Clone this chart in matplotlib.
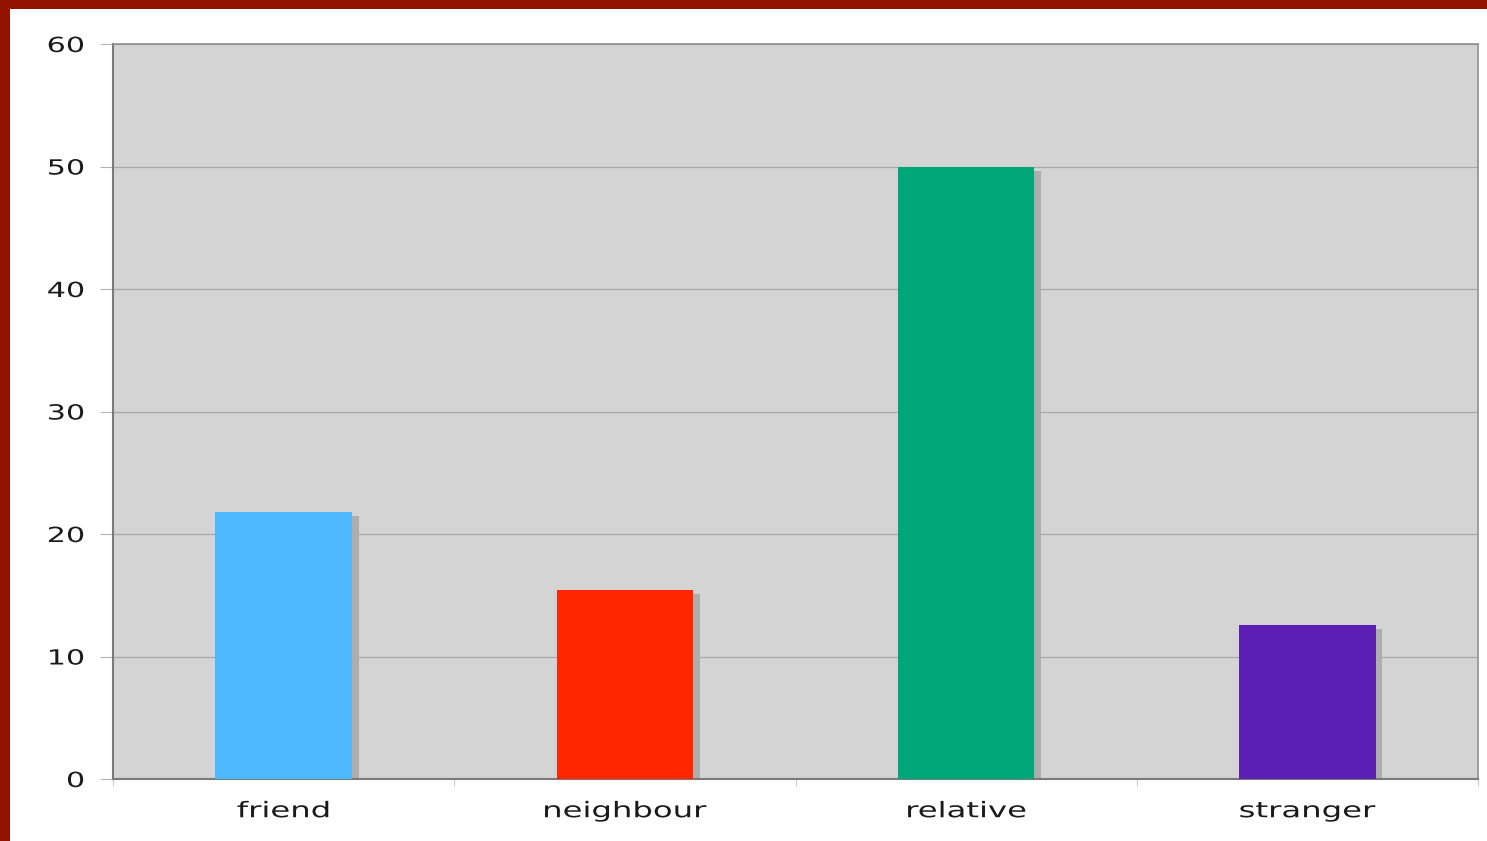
import matplotlib
matplotlib.use('Agg')
import matplotlib.pyplot as plt
from matplotlib.patches import Rectangle
from matplotlib.patheffects import AbstractPathEffect
from matplotlib.transforms import Affine2D

categories = ['friend', 'neighbour', 'relative', 'stranger']
values = [21.8, 15.4, 50.0, 12.6]
colors = ['#4cb8ff', '#ff2600', '#00a67a', '#5c20b4']
yticks = [0, 10, 20, 30, 40, 50, 60]


class StretchX(AbstractPathEffect):
    """Widen glyphs horizontally (the reference font is a wide one)."""

    def __init__(self, sx, anchor='center'):
        super().__init__()
        self.sx = sx
        self.anchor = anchor

    def draw_path(self, renderer, gc, tpath, affine, rgbFace=None):
        ext = tpath.get_extents()
        cx = ext.x1 if self.anchor == 'right' else 0.5 * (ext.x0 + ext.x1)
        tr = Affine2D().translate(-cx, 0).scale(self.sx, 1).translate(cx, 0) + affine
        renderer.draw_path(gc, tpath, tr, rgbFace)


if __name__ == '__main__':
    fig = plt.figure(figsize=(14.87, 8.41), dpi=100)
    fig.patch.set_facecolor('white')

    # dark red frame on left and top
    fig.patches.append(Rectangle((0, 0), 10 / 1487, 1, transform=fig.transFigure,
                                 facecolor='#921400', edgecolor='none', zorder=10))
    fig.patches.append(Rectangle((0, 1 - 9 / 841), 1, 9 / 841, transform=fig.transFigure,
                                 facecolor='#921400', edgecolor='none', zorder=10))

    ax = fig.add_axes([113 / 1487, 1 - 779 / 841, (1478 - 113) / 1487, (779 - 44) / 841])
    ax.set_facecolor('#d4d4d4')

    x = list(range(len(categories)))
    w = 0.4
    # drop shadows
    ax.bar([i + 0.02 for i in x], [v - 0.33 for v in values], width=w,
           color='#adadad', zorder=2)
    ax.bar(x, values, width=w, color=colors, zorder=3)

    ax.set_xlim(-0.5, len(categories) - 0.5)
    ax.set_ylim(0, 60)
    ax.set_yticks(yticks)
    ax.set_yticklabels([str(t) for t in yticks], fontsize=15, color='#1a1a1a')
    ax.set_xticks(x)
    ax.set_xticklabels(categories, fontsize=15.5, color='#1a1a1a')
    ax.tick_params(axis='x', length=0, pad=16)
    ax.tick_params(axis='y', length=9.5, color='#b4b4b4', pad=11)

    for lbl in ax.get_yticklabels():
        lbl.set_path_effects([StretchX(1.45, 'right')])
    for lbl in ax.get_xticklabels():
        lbl.set_path_effects([StretchX(1.5, 'center')])

    # category boundary ticks on x axis
    ax.set_xticks([i - 0.5 for i in range(len(categories) + 1)], minor=True)
    ax.tick_params(axis='x', which='minor', length=5, color='#c0c0c0', direction='out')

    ax.grid(axis='y', color='#a8a8a8', linewidth=0.9, zorder=1)
    ax.set_axisbelow(True)

    for s in ['left', 'bottom']:
        ax.spines[s].set_color('#7a7a7a')
        ax.spines[s].set_linewidth(1.5)
    for s in ['right', 'top']:
        ax.spines[s].set_color('#909090')
        ax.spines[s].set_linewidth(1.2)

    fig.savefig('out.png', dpi=100)
